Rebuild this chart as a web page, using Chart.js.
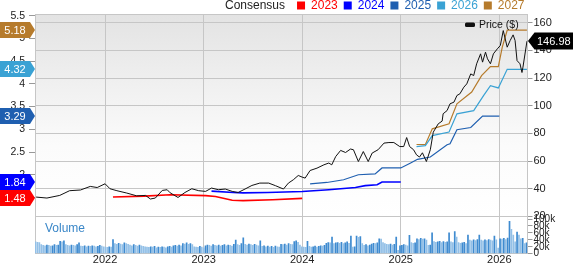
<!DOCTYPE html>
<html><head><meta charset="utf-8">
<script src="https://cdn.jsdelivr.net/npm/chart.js@4/dist/chart.umd.min.js"></script>
<style>html,body{margin:0;padding:0;background:#fff;overflow:hidden}#wrap{width:573px;height:264px;position:relative}</style>
</head><body><div id="wrap"><canvas id="c" width="573" height="264"></canvas></div>
<script>
// ---------- data ----------
const yearTicks = [2022, 2023, 2024, 2025, 2026];
const priceTicks = [20, 40, 60, 80, 100, 120, 140, 160];
const epsTicks = [1.5, 2, 2.5, 3, 3.5, 4, 4.5, 5, 5.5];
const volTicks = [0, 20, 40, 60, 80, 100];

const priceT = [2021.30,2021.41,2021.54,2021.64,2021.75,2021.85,2021.92,2022.00,2022.05,2022.12,2022.22,2022.32,2022.41,2022.46,2022.51,2022.58,2022.63,2022.66,2022.74,2022.81,2022.88,2022.95,2023.02,2023.08,2023.15,2023.22,2023.29,2023.35,2023.42,2023.49,2023.57,2023.66,2023.73,2023.81,2023.86,2023.91,2023.96,2024.00,2024.03,2024.08,2024.15,2024.22,2024.27,2024.30,2024.34,2024.39,2024.44,2024.49,2024.52,2024.57,2024.62,2024.67,2024.71,2024.77,2024.83,2024.88,2024.93,2024.99,2025.03,2025.06,2025.09,2025.13,2025.16,2025.19,2025.22,2025.26,2025.30,2025.33,2025.38,2025.42,2025.43,2025.47,2025.50,2025.54,2025.57,2025.60,2025.64,2025.67,2025.71,2025.74,2025.77,2025.81,2025.83,2025.86,2025.88,2025.91,2025.94,2025.98,2026.01,2026.04,2026.08,2026.11,2026.14,2026.16,2026.18,2026.21,2026.23,2026.24,2026.28,2026.285];
const priceV = [34.0,33.3,35.2,38.6,39.1,41.7,40.9,43.6,40.0,38.6,36.9,34.9,35.2,32.6,33.3,38.8,39.3,37.1,33.7,37.3,40.0,38.6,38.1,40.5,39.3,39.8,38.1,37.3,39.8,42.4,44.1,44.1,42.2,39.8,44.1,46.5,49.6,48.4,47.7,53.2,54.9,57.3,58.6,57.3,63.3,67.7,66.2,68.7,68.2,59.7,66.9,59.7,65.8,68.2,73.0,73.4,73.4,70.5,70.5,77.0,70.5,68.2,64.5,62.9,66.0,59.7,68.2,80.9,86.9,88.9,94.2,96.5,101.4,102.6,107.4,108.6,113.4,115.8,123.0,121.8,130.3,137.5,131.5,138.7,133.9,130.3,137.5,141.1,143.5,154.3,142.3,147.1,151.2,147.1,132.6,130.3,124.0,127.9,146.4,146.98];
const lastPrice = 146.98;

const eps2023T = [2022.08,2022.40,2022.66,2023.02,2023.12,2023.29,2023.40,2023.70,2024.00];
const eps2023V = [1.51,1.53,1.56,1.54,1.52,1.44,1.43,1.45,1.48];
const eps2024T = [2023.08,2023.30,2023.40,2023.65,2024.00,2024.27,2024.54,2024.64,2024.76,2024.81,2025.00];
const eps2024V = [1.64,1.61,1.60,1.61,1.63,1.67,1.72,1.76,1.78,1.84,1.84];
const eps2025T = [2024.08,2024.25,2024.42,2024.57,2024.74,2024.81,2025.00,2025.10,2025.17,2025.30,2025.47,2025.50,2025.57,2025.71,2025.83,2026.00];
const eps2025V = [1.80,1.83,1.89,2.00,2.02,2.15,2.15,2.26,2.34,2.39,2.66,2.68,2.99,3.04,3.29,3.29];
const eps2026T = [2025.16,2025.25,2025.32,2025.49,2025.57,2025.74,2025.84,2025.91,2025.99,2026.08,2026.28];
const eps2026V = [2.62,2.64,2.86,2.94,3.34,3.41,3.74,3.96,3.91,4.32,4.32];
const eps2027T = [2025.16,2025.25,2025.32,2025.49,2025.57,2025.72,2025.82,2025.91,2025.99,2026.03,2026.08,2026.28];
const eps2027V = [2.665,2.665,3.01,3.12,3.56,3.82,4.18,4.38,4.38,4.81,5.18,5.18];

// weekly volume, thousands
const volume = [35,34,33,27,25,24,26,25,23,24,
27,25,26,37,35,38,27,25,24,26,
25,24,27,32,23,22,24,21,23,22,
24,23,21,22,25,23,21,20,19,21,
20,42,30,28,31,29,27,32,30,28,
26,24,27,25,23,26,24,22,21,20,
19,21,20,22,18,20,19,21,20,18,
21,22,20,24,25,23,26,24,30,29,
32,28,30,27,21,20,19,22,20,18,
24,26,25,23,27,25,24,26,23,25,
27,24,26,25,23,28,40,27,25,30,
47,28,26,29,27,25,28,26,24,38,
22,24,21,23,20,22,19,23,21,20,
28,27,29,26,30,28,27,36,38,34,
26,21,20,19,37,22,20,21,23,20,
22,24,23,25,31,33,32,49,30,32,
33,31,34,30,32,35,31,52,20,21,
52,48,50,30,25,27,24,26,29,31,
30,32,44,43,33,30,28,27,29,26,
28,49,11,24,25,27,26,24,54,33,
31,32,44,42,45,43,44,40,25,26,
61,36,34,35,37,33,36,34,35,61,
35,33,65,49,33,31,32,34,30,55,
40,38,41,39,42,55,40,38,41,39,
42,40,38,52,41,17,44,43,45,42,
46,94,71,55,35,63,55,44,45,30,
32];
const volStart = 2021.295;
const volStep = 1 / 52.2;

const seriesNames = ['2023','2024','2025','2026','2027'];
const seriesColors = ['#ff0000','#0000ff','#1f5fb0','#3aa2d4','#b67b2c'];

// ---------- build ----------
const pts = (T, V) => T.map((t, i) => ({x: t, y: V[i]}));
const volData = volume.map((v, i) => ({x: volStart + i * volStep, y: v}));
const volColors = volume.map((v, i) => (i > 0 && v > volume[i - 1]) ? '#3f8bd0' : '#93c0e7');
const epsT = [eps2023T, eps2024T, eps2025T, eps2026T, eps2027T];
const epsV = [eps2023V, eps2024V, eps2025V, eps2026V, eps2027V];

const FONT = '"Liberation Sans", Arial, Helvetica, sans-serif';
Chart.defaults.font.family = FONT;
Chart.defaults.color = '#222';

const datasets = [{
  type: 'line', label: 'Price ($)', data: pts(priceT, priceV), yAxisID: 'y', xAxisID: 'x',
  borderColor: '#111', borderWidth: 1, pointRadius: 0, tension: 0, order: 0
}];
seriesNames.forEach((n, k) => datasets.push({
  type: 'line', label: n, data: pts(epsT[k], epsV[k]), yAxisID: 'eps', xAxisID: 'x',
  borderColor: seriesColors[k], borderWidth: (k < 2 ? 1.6 : 1.2), pointRadius: 0, tension: 0, order: 1 + k
}));
datasets.push({
  type: 'bar', label: 'Volume', data: volData, yAxisID: 'yv', xAxisID: 'x',
  backgroundColor: volColors, barPercentage: 0.9, categoryPercentage: 1, order: 10
});

const setTicks = arr => scale => { scale.ticks = arr.map(v => ({value: v})); };
const RIGHT_W = 45.5;

const bgPlugin = {
  id: 'bg',
  afterLayout(chart) {
    const a = chart.chartArea, yv = chart.scales.yv, y = chart.scales.y;
    yv.left = a.right; yv.right = a.right + RIGHT_W; yv.width = RIGHT_W;
    y.left = a.right; y.right = a.right + RIGHT_W; y.width = RIGHT_W;
  },
  beforeDraw(chart) {
    const {ctx, chartArea: a, scales} = chart;
    const yb = scales.y.getPixelForValue(20);
    ctx.save();
    ctx.fillStyle = '#fff';
    ctx.fillRect(0, 0, chart.width, chart.height);
    const g = ctx.createLinearGradient(0, a.top, 0, yb);
    g.addColorStop(0, '#e3e3e3');
    g.addColorStop(0.65, '#fbfbfb');
    g.addColorStop(1, '#ffffff');
    ctx.fillStyle = g;
    ctx.fillRect(a.left, a.top, a.right - a.left, yb - a.top);
    ctx.restore();
  },
  beforeDatasetsDraw(chart) {
    const {ctx, chartArea: a} = chart;
    ctx.save();
    ctx.strokeStyle = '#c6c6c6';
    ctx.lineWidth = 1;
    ctx.strokeRect(Math.round(a.left) + 0.5, Math.round(a.top) + 0.5, Math.round(a.right - a.left) - 1, Math.round(a.bottom - a.top) - 1);
    ctx.restore();
  },
  afterDraw(chart) {
    const {ctx, chartArea: a, scales} = chart;
    ctx.save();
    // top legend
    ctx.textBaseline = 'middle';
    ctx.font = '12px ' + FONT;
    ctx.fillStyle = '#222';
    ctx.textAlign = 'left';
    let x = 225;
    ctx.fillText('Consensus', x, 6);
    x += ctx.measureText('Consensus').width + 12;
    seriesNames.forEach((n, k) => {
      ctx.fillStyle = seriesColors[k];
      ctx.fillRect(x, 1.5, 8, 8);
      ctx.fillText(n, x + 14, 6);
      x += 14 + ctx.measureText(n).width + 6;
    });
    // price legend
    ctx.fillStyle = '#111';
    ctx.beginPath();
    ctx.roundRect ? ctx.roundRect(465, 22.5, 10, 4.5, 1.5) : ctx.rect(465, 22.5, 10, 4.5);
    ctx.fill();
    ctx.font = '10.5px ' + FONT;
    ctx.fillText('Price ($)', 479, 25.5);
    // volume label
    ctx.fillStyle = '#3a87c8';
    ctx.font = '12px ' + FONT;
    ctx.fillText('Volume', 45, 229);
    // left tags
    ctx.font = '11px ' + FONT;
    ctx.textAlign = 'center';
    for (let k = 4; k >= 0; k--) {
      const v = epsV[k][epsV[k].length - 1];
      const y = Math.round(scales.eps.getPixelForValue(v));
      ctx.fillStyle = seriesColors[k];
      ctx.beginPath();
      ctx.moveTo(0, y - 8); ctx.lineTo(30, y - 8); ctx.lineTo(35, y); ctx.lineTo(30, y + 8); ctx.lineTo(0, y + 8);
      ctx.closePath(); ctx.fill();
      ctx.fillStyle = '#fff';
      ctx.fillText(v.toFixed(2), 15, y + 0.5);
    }
    // right tag
    const yp = Math.round(scales.y.getPixelForValue(lastPrice));
    ctx.fillStyle = '#000';
    ctx.beginPath();
    ctx.moveTo(a.right + 0.5, yp); ctx.lineTo(a.right + 7, yp - 8.5); ctx.lineTo(573, yp - 8.5); ctx.lineTo(573, yp + 8.5); ctx.lineTo(a.right + 7, yp + 8.5);
    ctx.closePath(); ctx.fill();
    ctx.fillStyle = '#fff';
    ctx.textAlign = 'left';
    ctx.fillText(lastPrice.toFixed(2), a.right + 9.5, yp + 0.5);
    ctx.restore();
  }
};

new Chart(document.getElementById('c'), {
  data: {datasets},
  options: {
    responsive: false, animation: false, events: [], devicePixelRatio: 1,
    layout: {padding: {top: 14, left: 0, right: 0, bottom: 0}},
    plugins: {legend: {display: false}, tooltip: {enabled: false}, title: {display: false}},
    scales: {
      x: {
        type: 'linear', position: 'bottom', min: 2021.289, max: 2026.286, offset: false,
        afterBuildTicks: setTicks(yearTicks),
        afterFit: s => { s.height = 10; },
        ticks: {autoSkip: false, maxRotation: 0, padding: 0, font: {size: 11}, color: '#222', callback: v => String(v)},
        grid: {color: '#c6c6c6', lineWidth: 1, drawTicks: false, offset: false},
        border: {display: false}
      },
      yv: {
        type: 'linear', position: 'right', min: 0, max: 691.6, weight: 0,
        afterBuildTicks: setTicks(volTicks),
        afterFit: s => { s.width = 0; },
        ticks: {padding: 1, font: {size: 10}, color: '#222', autoSkip: false, callback: v => v === 0 ? '0' : v + 'k'},
        grid: {drawOnChartArea: false, tickLength: 5, tickColor: '#999'},
        border: {display: false}
      },
      y: {
        type: 'linear', position: 'right', min: -6.92, max: 166.28, weight: 5,
        afterBuildTicks: setTicks(priceTicks),
        afterFit: s => { s.width = RIGHT_W; },
        ticks: {padding: 1, font: {size: 11}, color: '#222', callback: v => String(v)},
        grid: {color: '#c6c6c6', lineWidth: 1, tickLength: 5, tickColor: '#999'},
        border: {display: false}
      },
      eps: {
        type: 'linear', position: 'left', min: 0.2626, max: 5.537,
        afterBuildTicks: setTicks(epsTicks),
        afterFit: s => { s.width = 35; },
        ticks: {padding: 4, font: {size: 10.5}, color: '#222', callback: v => String(v)},
        grid: {drawOnChartArea: false, tickLength: 6, tickColor: '#999'},
        border: {display: false}
      }
    }
  },
  plugins: [bgPlugin]
});
</script>
</body></html>
